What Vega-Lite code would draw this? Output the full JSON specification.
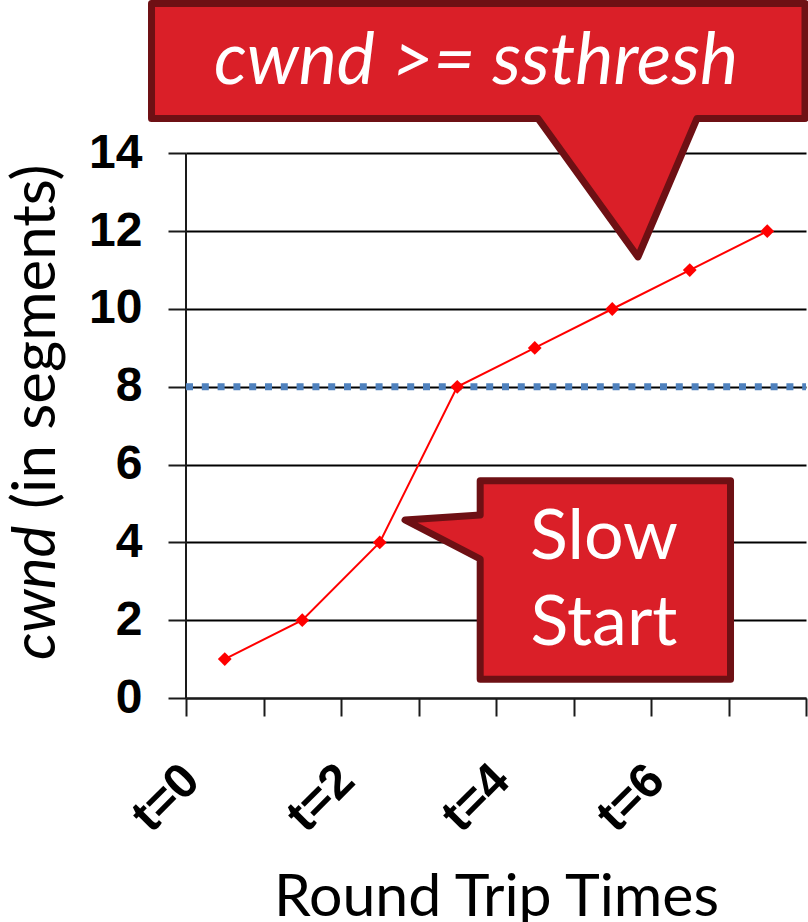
{
  "$schema": "https://vega.github.io/schema/vega-lite/v6.json",
  "autosize": "none",
  "width": 620,
  "height": 698,
  "padding": {"left": 186, "top": 0, "right": 2, "bottom": 224},
  "background": "white",
  "config": {"view": {"stroke": null}},
  "data": {"values": [{"ssthresh": 8}]},
  "datasets": {
    "cwnd": [
      {"rtt": 0.5, "cwnd": 1},
      {"rtt": 1.5, "cwnd": 2},
      {"rtt": 2.5, "cwnd": 4},
      {"rtt": 3.5, "cwnd": 8},
      {"rtt": 4.5, "cwnd": 9},
      {"rtt": 5.5, "cwnd": 10},
      {"rtt": 6.5, "cwnd": 11},
      {"rtt": 7.5, "cwnd": 12}
    ],
    "callouts": [
      {"shape": "threshold", "order": 1, "x": -0.445, "y": 17.853},
      {"shape": "threshold", "order": 2, "x": 7.987, "y": 17.853},
      {"shape": "threshold", "order": 3, "x": 7.987, "y": 14.897},
      {"shape": "threshold", "order": 4, "x": 6.594, "y": 14.897},
      {"shape": "threshold", "order": 5, "x": 5.832, "y": 11.337},
      {"shape": "threshold", "order": 6, "x": 4.542, "y": 14.897},
      {"shape": "threshold", "order": 7, "x": -0.445, "y": 14.897},
      {"shape": "threshold", "order": 8, "x": -0.445, "y": 17.853},
      {"shape": "slowstart", "order": 1, "x": 3.796, "y": 5.584},
      {"shape": "slowstart", "order": 2, "x": 7.026, "y": 5.584},
      {"shape": "slowstart", "order": 3, "x": 7.026, "y": 0.483},
      {"shape": "slowstart", "order": 4, "x": 3.796, "y": 0.483},
      {"shape": "slowstart", "order": 5, "x": 3.796, "y": 3.573},
      {"shape": "slowstart", "order": 6, "x": 2.826, "y": 4.576},
      {"shape": "slowstart", "order": 7, "x": 3.796, "y": 4.704},
      {"shape": "slowstart", "order": 8, "x": 3.796, "y": 5.584}
    ]
  },
  "encoding": {
    "x": {
      "type": "quantitative",
      "scale": {"domain": [0, 8], "nice": false, "zero": false}
    },
    "y": {
      "type": "quantitative",
      "scale": {"domain": [0, 17.943], "nice": false, "zero": false}
    }
  },
  "layer": [
    {
      "data": {"name": "cwnd"},
      "mark": {"type": "rule", "opacity": 0},
      "encoding": {
        "x": {
          "field": "rtt",
          "type": "quantitative",
          "axis": {
            "values": [0, 1, 2, 3, 4, 5, 6, 7, 8],
            "labelExpr": "datum.value % 2 == 0 && datum.value < 8 ? 't=' + datum.value : ''",
            "grid": false,
            "domainColor": "#1a1a1a",
            "domainWidth": 2,
            "tickColor": "#1a1a1a",
            "tickWidth": 2,
            "tickSize": 18,
            "labelFont": "Liberation Sans",
            "labelFontWeight": "bold",
            "labelFontSize": 49,
            "labelColor": "black",
            "labelAngle": -45,
            "labelAlign": "right",
            "labelBaseline": "middle",
            "labelPadding": 56,
            "labelOffset": 5,
            "labelOverlap": false,
            "title": "Round Trip Times",
            "titleFont": "Lato",
            "titleFontWeight": "normal",
            "titleFontSize": 59,
            "titleColor": "black",
            "titlePadding": 28
          }
        },
        "y": {
          "field": "cwnd",
          "type": "quantitative",
          "axis": {
            "values": [0, 2, 4, 6, 8, 10, 12, 14],
            "grid": true,
            "gridColor": "black",
            "gridWidth": 2,
            "gridOpacity": 1,
            "domain": false,
            "tickColor": "#1a1a1a",
            "tickWidth": 2,
            "tickSize": 18,
            "labelFont": "Liberation Sans",
            "labelFontWeight": "bold",
            "labelFontSize": 48,
            "labelColor": "black",
            "labelPadding": 26,
            "title": null
          }
        }
      }
    },
    {
      "mark": {"type": "rule", "color": "#1a1a1a", "strokeWidth": 2},
      "encoding": {
        "x": {"datum": 0},
        "y": {"datum": 0},
        "y2": {"datum": 14}
      }
    },
    {
      "mark": {"type": "rule", "color": "#4F81BD", "strokeWidth": 7, "strokeDash": [7, 8.8]},
      "encoding": {
        "y": {"field": "ssthresh", "type": "quantitative"},
        "x": {"datum": 0},
        "x2": {"datum": 8}
      }
    },
    {
      "data": {"name": "cwnd"},
      "mark": {"type": "line", "color": "#FF0000", "strokeWidth": 2},
      "encoding": {
        "x": {"field": "rtt", "type": "quantitative"},
        "y": {"field": "cwnd", "type": "quantitative"}
      }
    },
    {
      "data": {"name": "cwnd"},
      "mark": {"type": "point", "shape": "diamond", "filled": true, "color": "#FF0000", "opacity": 1, "size": 190},
      "encoding": {
        "x": {"field": "rtt", "type": "quantitative"},
        "y": {"field": "cwnd", "type": "quantitative"}
      }
    },
    {
      "data": {"name": "callouts"},
      "mark": {
        "type": "line",
        "fill": "#DA1F28",
        "stroke": "#6E1014",
        "strokeWidth": 7,
        "strokeJoin": "round",
        "strokeCap": "round"
      },
      "encoding": {
        "x": {"field": "x", "type": "quantitative"},
        "y": {"field": "y", "type": "quantitative"},
        "detail": {"field": "shape"},
        "order": {"field": "order", "type": "quantitative"}
      }
    },
    {
      "mark": {"type": "text", "text": "cwnd >= ssthresh", "font": "Lato", "fontStyle": "italic", "fontSize": 72, "color": "white", "align": "center", "baseline": "alphabetic"},
      "encoding": {
        "x": {"datum": 3.742},
        "y": {"datum": 15.79}
      }
    },
    {
      "mark": {"type": "text", "text": "Slow", "font": "Lato", "fontSize": 70, "color": "white", "align": "center", "baseline": "alphabetic"},
      "encoding": {
        "x": {"datum": 5.394},
        "y": {"datum": 3.573}
      }
    },
    {
      "mark": {"type": "text", "text": "Start", "font": "Lato", "fontSize": 70, "color": "white", "align": "center", "baseline": "alphabetic"},
      "encoding": {
        "x": {"datum": 5.394},
        "y": {"datum": 1.362}
      }
    },
    {
      "mark": {"type": "text", "text": "cwnd", "font": "Lato", "fontStyle": "italic", "fontSize": 60, "color": "black", "angle": 270, "align": "left", "baseline": "alphabetic"},
      "encoding": {
        "x": {"datum": -1.69},
        "y": {"datum": 0.977}
      }
    },
    {
      "mark": {"type": "text", "text": "(in segments)", "font": "Lato", "fontSize": 60, "color": "black", "angle": 270, "align": "left", "baseline": "alphabetic"},
      "encoding": {
        "x": {"datum": -1.69},
        "y": {"datum": 4.86}
      }
    }
  ]
}
